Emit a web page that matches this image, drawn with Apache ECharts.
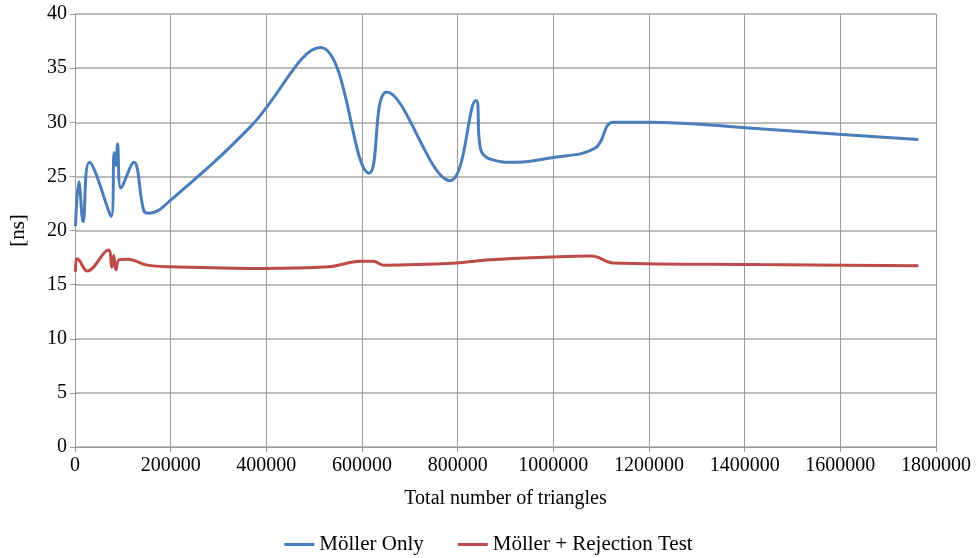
<!DOCTYPE html>
<html>
<head>
<meta charset="utf-8">
<script src="https://cdn.jsdelivr.net/npm/echarts@6/dist/echarts.min.js"></script>
<style>
html,body{margin:0;padding:0;background:#fff;}
#c{width:977px;height:558px;}
</style>
</head>
<body>
<div id="c"></div>
<script>
const seriesNames = ['Möller Only', 'Möller + Rejection Test'];
const xAxisName = 'Total number of triangles';
const yAxisName = '[ns]';

// [triangles, ns]
const mollerOnly = [
  [1000, 20.4], [8000, 24.5], [17000, 20.8], [30000, 26.3], [76000, 21.3],
  [82000, 27.2], [86000, 26.0], [89000, 28.0], [96000, 23.9], [123000, 26.3],
  [144000, 21.8], [155000, 21.6], [200000, 22.8], [367000, 29.6], [513000, 36.9],
  [615000, 25.3], [652000, 32.8], [784000, 24.6], [838000, 32.0], [848000, 27.5],
  [868000, 26.6], [923000, 26.3], [993000, 26.7], [1087000, 27.6], [1125000, 30.0],
  [1198000, 30.0], [1431000, 29.4], [1596000, 28.9], [1763000, 28.4]
];
const mollerRejection = [
  [1000, 16.2], [3000, 17.4], [8000, 17.3], [26000, 16.25], [69500, 18.2],
  [77000, 16.6], [81000, 17.7], [85500, 16.35], [92500, 17.3], [110000, 17.35],
  [151000, 16.8], [200000, 16.65], [388000, 16.5], [530000, 16.65], [597000, 17.15],
  [624000, 17.15], [645000, 16.8], [798000, 17.0], [868000, 17.3], [993000, 17.55],
  [1080000, 17.65], [1125000, 17.0], [1431000, 16.85], [1763000, 16.75]
];

const font = 'Liberation Serif';
const chart = echarts.init(document.getElementById('c'));
chart.setOption({
  animation: false,
  backgroundColor: '#fff',
  textStyle: { fontFamily: font },
  grid: { left: 74, right: 41, top: 14, bottom: 111, containLabel: false },
  legend: {
    bottom: -2,
    left: 'center',
    icon: 'rect',
    itemWidth: 30,
    itemHeight: 3,
    itemGap: 34,
    textStyle: { fontFamily: font, fontSize: 21, color: '#000' },
    data: seriesNames
  },
  xAxis: {
    type: 'value',
    min: 0, max: 1800000, interval: 200000,
    name: xAxisName,
    nameLocation: 'middle',
    nameGap: 42,
    nameTextStyle: { fontFamily: font, fontSize: 20, color: '#000' },
    axisLine: { show: true, lineStyle: { color: '#9a9a9a', width: 1 } },
    axisTick: { show: true, length: 5, lineStyle: { color: '#9a9a9a' } },
    axisLabel: { fontFamily: font, fontSize: 20, color: '#000', margin: 9,
      formatter: v => String(v) },
    splitLine: { show: true, lineStyle: { color: '#9a9a9a', width: 1 } }
  },
  yAxis: {
    type: 'value',
    min: 0, max: 40, interval: 5,
    name: yAxisName,
    nameLocation: 'middle',
    nameGap: 46,
    nameRotate: 90,
    nameTextStyle: { fontFamily: font, fontSize: 21, color: '#000' },
    axisLine: { show: true, lineStyle: { color: '#9a9a9a', width: 1 } },
    axisTick: { show: true, length: 5, lineStyle: { color: '#9a9a9a' } },
    axisLabel: { fontFamily: font, fontSize: 20, color: '#000', margin: 8 },
    splitLine: { show: true, lineStyle: { color: '#a6a6a6', width: 1.5 } }
  },
  series: [
    {
      name: seriesNames[0], type: 'line', data: mollerOnly,
      smooth: 0.4, symbol: 'none',
      lineStyle: { color: '#4a7ebb', width: 3 },
      itemStyle: { color: '#4a7ebb' }
    },
    {
      name: seriesNames[1], type: 'line', data: mollerRejection,
      smooth: 0.4, symbol: 'none',
      lineStyle: { color: '#be4b48', width: 3 },
      itemStyle: { color: '#be4b48' }
    }
  ]
});
</script>
</body>
</html>
